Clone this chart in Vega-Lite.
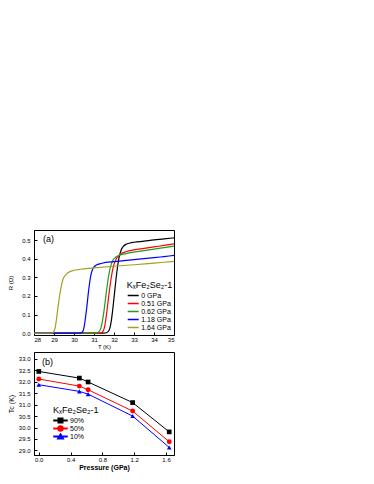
{
  "$schema": "https://vega.github.io/schema/vega-lite/v6.json",
  "padding": {"top": 229, "left": 6, "right": 5, "bottom": 5},
  "background": "white",
  "spacing": 1,
  "resolve": {
    "scale": {"color": "independent", "shape": "independent"},
    "legend": {"color": "independent", "shape": "independent"}
  },
  "config": {
    "font": "Liberation Sans",
    "view": {"stroke": "#000", "strokeWidth": 1},
    "title": {"fontSize": 9, "fontWeight": "normal", "color": "#000", "anchor": "start", "orient": "top", "frame": "group"},
    "axis": {
      "grid": false,
      "domainColor": "#000",
      "tickColor": "#000",
      "labelColor": "#000",
      "titleColor": "#000",
      "labelFontSize": 6,
      "titleFontSize": 7,
      "titleFontWeight": "normal",
      "tickSize": -3,
      "labelOverlap": false,
      "labelBound": false
    },
    "axisX": {"labelPadding": 4, "titlePadding": 1},
    "axisY": {"labelPadding": 7, "titlePadding": 4},
    "legend": {
      "titleFontWeight": "normal",
      "titleFontSize": 9,
      "titleColor": "#000",
      "labelColor": "#000",
      "labelFontSize": 7,
      "padding": 0,
      "rowPadding": 0,
      "titlePadding": 2,
      "symbolSize": 25,
      "clipHeight": 7
    }
  },
  "vconcat": [
    {
      "width": 140,
      "height": 105,
      "title": {"text": "(a)", "offset": -14, "dx": 9, "frame": "group"},
      "data": {
        "values": [
          {"P": "0 GPa", "T": 28.0, "R": 0.0},
          {"P": "0 GPa", "T": 31.5, "R": 0.0},
          {"P": "0 GPa", "T": 31.62, "R": 0.002},
          {"P": "0 GPa", "T": 31.72, "R": 0.01},
          {"P": "0 GPa", "T": 31.8, "R": 0.03},
          {"P": "0 GPa", "T": 31.87, "R": 0.07},
          {"P": "0 GPa", "T": 31.94, "R": 0.13},
          {"P": "0 GPa", "T": 32.02, "R": 0.21},
          {"P": "0 GPa", "T": 32.1, "R": 0.29},
          {"P": "0 GPa", "T": 32.18, "R": 0.36},
          {"P": "0 GPa", "T": 32.26, "R": 0.41},
          {"P": "0 GPa", "T": 32.35, "R": 0.445},
          {"P": "0 GPa", "T": 32.45, "R": 0.465},
          {"P": "0 GPa", "T": 32.6, "R": 0.478},
          {"P": "0 GPa", "T": 32.8, "R": 0.485},
          {"P": "0 GPa", "T": 33.0, "R": 0.489},
          {"P": "0 GPa", "T": 33.5, "R": 0.495},
          {"P": "0 GPa", "T": 34.0, "R": 0.502},
          {"P": "0 GPa", "T": 34.5, "R": 0.507},
          {"P": "0 GPa", "T": 35.0, "R": 0.513},
          {"P": "0.51 GPa", "T": 28.0, "R": 0.0},
          {"P": "0.51 GPa", "T": 31.3, "R": 0.0},
          {"P": "0.51 GPa", "T": 31.42, "R": 0.005},
          {"P": "0.51 GPa", "T": 31.52, "R": 0.03},
          {"P": "0.51 GPa", "T": 31.6, "R": 0.08},
          {"P": "0.51 GPa", "T": 31.68, "R": 0.15},
          {"P": "0.51 GPa", "T": 31.76, "R": 0.22},
          {"P": "0.51 GPa", "T": 31.85, "R": 0.29},
          {"P": "0.51 GPa", "T": 31.95, "R": 0.35},
          {"P": "0.51 GPa", "T": 32.05, "R": 0.385},
          {"P": "0.51 GPa", "T": 32.18, "R": 0.41},
          {"P": "0.51 GPa", "T": 32.35, "R": 0.427},
          {"P": "0.51 GPa", "T": 32.6, "R": 0.438},
          {"P": "0.51 GPa", "T": 33.0, "R": 0.448},
          {"P": "0.51 GPa", "T": 33.5, "R": 0.456},
          {"P": "0.51 GPa", "T": 34.0, "R": 0.464},
          {"P": "0.51 GPa", "T": 34.5, "R": 0.472},
          {"P": "0.51 GPa", "T": 35.0, "R": 0.48},
          {"P": "0.62 GPa", "T": 28.0, "R": 0.0},
          {"P": "0.62 GPa", "T": 31.1, "R": 0.0},
          {"P": "0.62 GPa", "T": 31.25, "R": 0.008},
          {"P": "0.62 GPa", "T": 31.35, "R": 0.03},
          {"P": "0.62 GPa", "T": 31.43, "R": 0.07},
          {"P": "0.62 GPa", "T": 31.5, "R": 0.12},
          {"P": "0.62 GPa", "T": 31.57, "R": 0.18},
          {"P": "0.62 GPa", "T": 31.64, "R": 0.24},
          {"P": "0.62 GPa", "T": 31.72, "R": 0.3},
          {"P": "0.62 GPa", "T": 31.82, "R": 0.355},
          {"P": "0.62 GPa", "T": 31.93, "R": 0.39},
          {"P": "0.62 GPa", "T": 32.08, "R": 0.408},
          {"P": "0.62 GPa", "T": 32.3, "R": 0.42},
          {"P": "0.62 GPa", "T": 32.6, "R": 0.428},
          {"P": "0.62 GPa", "T": 33.0, "R": 0.436},
          {"P": "0.62 GPa", "T": 33.5, "R": 0.444},
          {"P": "0.62 GPa", "T": 34.0, "R": 0.452},
          {"P": "0.62 GPa", "T": 34.5, "R": 0.46},
          {"P": "0.62 GPa", "T": 35.0, "R": 0.468},
          {"P": "1.18 GPa", "T": 28.0, "R": 0.0},
          {"P": "1.18 GPa", "T": 30.3, "R": 0.0},
          {"P": "1.18 GPa", "T": 30.42, "R": 0.006},
          {"P": "1.18 GPa", "T": 30.5, "R": 0.03},
          {"P": "1.18 GPa", "T": 30.57, "R": 0.08},
          {"P": "1.18 GPa", "T": 30.64, "R": 0.14},
          {"P": "1.18 GPa", "T": 30.71, "R": 0.21},
          {"P": "1.18 GPa", "T": 30.78, "R": 0.27},
          {"P": "1.18 GPa", "T": 30.86, "R": 0.32},
          {"P": "1.18 GPa", "T": 30.96, "R": 0.35},
          {"P": "1.18 GPa", "T": 31.1, "R": 0.365},
          {"P": "1.18 GPa", "T": 31.4, "R": 0.376},
          {"P": "1.18 GPa", "T": 32.0, "R": 0.385},
          {"P": "1.18 GPa", "T": 32.5, "R": 0.39},
          {"P": "1.18 GPa", "T": 33.0, "R": 0.396},
          {"P": "1.18 GPa", "T": 33.5, "R": 0.401},
          {"P": "1.18 GPa", "T": 34.0, "R": 0.406},
          {"P": "1.18 GPa", "T": 34.5, "R": 0.412},
          {"P": "1.18 GPa", "T": 35.0, "R": 0.418},
          {"P": "1.64 GPa", "T": 28.0, "R": 0.0},
          {"P": "1.64 GPa", "T": 28.85, "R": 0.0},
          {"P": "1.64 GPa", "T": 28.97, "R": 0.006},
          {"P": "1.64 GPa", "T": 29.06, "R": 0.03},
          {"P": "1.64 GPa", "T": 29.13, "R": 0.08},
          {"P": "1.64 GPa", "T": 29.2, "R": 0.14},
          {"P": "1.64 GPa", "T": 29.28, "R": 0.2},
          {"P": "1.64 GPa", "T": 29.36, "R": 0.25},
          {"P": "1.64 GPa", "T": 29.45, "R": 0.29},
          {"P": "1.64 GPa", "T": 29.56, "R": 0.31},
          {"P": "1.64 GPa", "T": 29.7, "R": 0.325},
          {"P": "1.64 GPa", "T": 29.9, "R": 0.335},
          {"P": "1.64 GPa", "T": 30.2, "R": 0.342},
          {"P": "1.64 GPa", "T": 30.6, "R": 0.347},
          {"P": "1.64 GPa", "T": 31.0, "R": 0.351},
          {"P": "1.64 GPa", "T": 32.0, "R": 0.36},
          {"P": "1.64 GPa", "T": 33.0, "R": 0.368},
          {"P": "1.64 GPa", "T": 34.0, "R": 0.377},
          {"P": "1.64 GPa", "T": 35.0, "R": 0.386}
        ]
      },
      "mark": {"type": "line", "strokeWidth": 1.2, "interpolate": "monotone", "clip": true},
      "encoding": {
        "x": {
          "field": "T", "type": "quantitative",
          "scale": {"domain": [28, 35], "nice": false, "zero": false},
          "axis": {"values": [28, 29, 30, 31, 32, 33, 34, 35], "title": "T (K)", "titleFontSize": 6, "labelOverlap": false}
        },
        "y": {
          "field": "R", "type": "quantitative",
          "scale": {"domain": [-0.01, 0.555], "nice": false, "zero": false},
          "axis": {"values": [0, 0.1, 0.2, 0.3, 0.4, 0.5], "format": ".1f", "title": "R (Ω)", "titleFontSize": 6, "titlePadding": 8, "labelOverlap": false}
        },
        "color": {
          "field": "P", "type": "nominal",
          "scale": {
            "domain": ["0 GPa", "0.51 GPa", "0.62 GPa", "1.18 GPa", "1.64 GPa"],
            "range": ["#000000", "#ff0000", "#1f9e1f", "#0000ff", "#a3a020"]
          },
          "legend": {
            "title": "KₓFe₂Se₂-1",
            "orient": "none",
            "legendX": 92.7,
            "legendY": 51,
            "symbolType": "M-2.2,0H2.2",
            "symbolSize": 25,
            "symbolOffset": 3,
            "labelOffset": 4.5,
            "symbolStrokeWidth": 1.5,
            "rowPadding": 0,
            "clipHeight": 7
          }
        }
      }
    },
    {
      "width": 140,
      "height": 103,
      "title": {"text": "(b)", "offset": -14.5, "dx": 8, "frame": "group"},
      "data": {
        "values": [
          {"L": "90%", "P": 0.0, "Tc": 32.45},
          {"L": "90%", "P": 0.51, "Tc": 32.16},
          {"L": "90%", "P": 0.62, "Tc": 31.99},
          {"L": "90%", "P": 1.18, "Tc": 31.09},
          {"L": "90%", "P": 1.64, "Tc": 29.81},
          {"L": "50%", "P": 0.0, "Tc": 32.12},
          {"L": "50%", "P": 0.51, "Tc": 31.81},
          {"L": "50%", "P": 0.62, "Tc": 31.65},
          {"L": "50%", "P": 1.18, "Tc": 30.72},
          {"L": "50%", "P": 1.64, "Tc": 29.38},
          {"L": "10%", "P": 0.0, "Tc": 31.87},
          {"L": "10%", "P": 0.51, "Tc": 31.58},
          {"L": "10%", "P": 0.62, "Tc": 31.46},
          {"L": "10%", "P": 1.18, "Tc": 30.5},
          {"L": "10%", "P": 1.64, "Tc": 29.13}
        ]
      },
      "encoding": {
        "x": {
          "field": "P", "type": "quantitative",
          "scale": {"domain": [-0.06, 1.7], "nice": false, "zero": false},
          "axis": {"values": [0, 0.4, 0.8, 1.2, 1.6], "format": ".1f", "title": "Pressure (GPa)", "titleFontWeight": "bold", "labelOverlap": false}
        },
        "y": {
          "field": "Tc", "type": "quantitative",
          "scale": {"domain": [28.8, 33.3], "nice": false, "zero": false},
          "axis": {"values": [29, 29.5, 30, 30.5, 31, 31.5, 32, 32.5, 33], "format": ".1f", "title": "Tc (K)", "labelOverlap": false}
        },
        "color": {
          "field": "L", "type": "nominal",
          "scale": {"domain": ["90%", "50%", "10%"], "range": ["#000000", "#ff0000", "#0000ff"]},
          "legend": {
            "title": "KₓFe₂Se₂-1",
            "orient": "none",
            "legendX": 19,
            "legendY": 54,
            "symbolSize": 25,
            "symbolOffset": 4,
            "labelOffset": 6,
            "rowPadding": 0,
            "clipHeight": 7
          }
        }
      },
      "layer": [
        {"mark": {"type": "line", "strokeWidth": 1}},
        {
          "transform": [{"filter": "datum.L == '90%'"}],
          "mark": {"type": "point", "shape": "square", "filled": true, "size": 22, "opacity": 1}
        },
        {
          "transform": [{"filter": "datum.L == '50%'"}],
          "mark": {"type": "point", "shape": "circle", "filled": true, "size": 24, "opacity": 1}
        },
        {
          "transform": [{"filter": "datum.L == '10%'"}],
          "mark": {"type": "point", "shape": "triangle-up", "filled": true, "size": 22, "opacity": 1}
        },
        {
          "transform": [{"filter": "datum.P < -100"}],
          "mark": {"type": "point", "filled": true, "opacity": 1, "size": 25},
          "encoding": {
            "shape": {
              "field": "L", "type": "nominal",
              "scale": {
                "domain": ["90%", "50%", "10%"],
                "range": [
                  "M-2.6,-0.14H2.6V0.14H-2.6ZM-0.9,-0.9H0.9V0.9H-0.9Z",
                  "M-2.6,-0.14H2.6V0.14H-2.6ZM-1,0A1,1,0,1,1,1,0A1,1,0,1,1,-1,0Z",
                  "M-2.6,-0.14H2.6V0.14H-2.6ZM0,-1L1.1,0.85H-1.1Z"
                ]
              },
              "legend": {
                "title": "KₓFe₂Se₂-1",
                "orient": "none",
                "legendX": 19,
                "legendY": 54,
                "symbolSize": 25,
                "symbolOffset": 4,
                "labelOffset": 6,
                "rowPadding": 0,
                "clipHeight": 7
              }
            }
          }
        }
      ]
    }
  ]
}
